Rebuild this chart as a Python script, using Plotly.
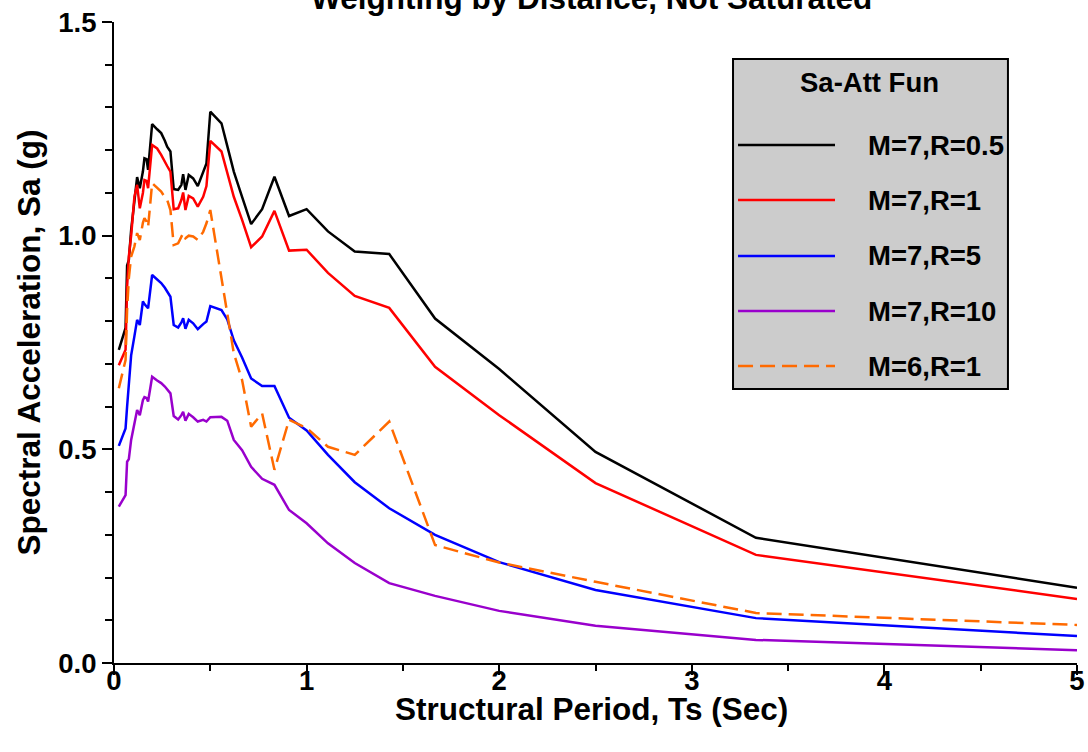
import plotly.graph_objects as go

# Structural period (s)
PERIOD = [0.025, 0.06, 0.068, 0.077, 0.089, 0.106, 0.12, 0.134, 0.15, 0.158,
          0.169, 0.177, 0.198, 0.224, 0.245, 0.264, 0.276, 0.293, 0.31, 0.333,
          0.35, 0.359, 0.371, 0.388, 0.411, 0.435, 0.463, 0.48, 0.5, 0.558,
          0.588, 0.622, 0.665, 0.712, 0.769, 0.833, 0.909, 1.0, 1.111, 1.25,
          1.429, 1.667, 2.0, 2.5, 3.333, 5.0]

# Spectral acceleration (g) for each magnitude / distance case
SA_M7_R05 = [0.733, 0.784, 0.930, 0.943, 1.013, 1.083, 1.137, 1.111, 1.150, 1.181,
             1.179, 1.154, 1.261, 1.249, 1.240, 1.222, 1.208, 1.197, 1.109, 1.107,
             1.119, 1.144, 1.107, 1.142, 1.134, 1.116, 1.150, 1.169, 1.290, 1.263,
             1.210, 1.150, 1.091, 1.027, 1.062, 1.138, 1.046, 1.062, 1.010, 0.963,
             0.957, 0.806, 0.688, 0.494, 0.293, 0.176]
SA_M7_R1 = [0.697, 0.733, 0.880, 0.951, 1.000, 1.091, 1.119, 1.064, 1.100, 1.130,
            1.128, 1.111, 1.212, 1.204, 1.189, 1.175, 1.163, 1.150, 1.062, 1.064,
            1.084, 1.101, 1.060, 1.093, 1.087, 1.068, 1.091, 1.116, 1.222, 1.197,
            1.145, 1.091, 1.037, 0.973, 0.998, 1.058, 0.965, 0.967, 0.913, 0.859,
            0.831, 0.693, 0.580, 0.421, 0.253, 0.150]
SA_M7_R5 = [0.508, 0.549, 0.600, 0.660, 0.720, 0.765, 0.803, 0.791, 0.846, 0.840,
            0.834, 0.830, 0.908, 0.898, 0.889, 0.878, 0.868, 0.857, 0.791, 0.785,
            0.797, 0.807, 0.782, 0.803, 0.795, 0.781, 0.793, 0.799, 0.835, 0.826,
            0.804, 0.755, 0.715, 0.666, 0.648, 0.648, 0.574, 0.544, 0.487, 0.423,
            0.362, 0.300, 0.236, 0.171, 0.105, 0.063]
SA_M7_R10 = [0.366, 0.393, 0.471, 0.477, 0.522, 0.562, 0.592, 0.580, 0.615, 0.622,
             0.620, 0.612, 0.670, 0.661, 0.655, 0.647, 0.640, 0.631, 0.578, 0.570,
             0.580, 0.588, 0.567, 0.583, 0.575, 0.565, 0.569, 0.565, 0.575, 0.576,
             0.567, 0.522, 0.498, 0.459, 0.431, 0.417, 0.358, 0.327, 0.280, 0.234,
             0.187, 0.157, 0.122, 0.087, 0.054, 0.030]
SA_M6_R1 = [0.643, 0.709, 0.826, 0.900, 0.951, 0.975, 1.006, 0.990, 1.030, 1.041,
            1.033, 1.020, 1.123, 1.111, 1.103, 1.090, 1.084, 1.060, 0.978, 0.982,
            0.998, 1.006, 0.994, 1.000, 0.998, 0.990, 1.009, 1.029, 1.060, 0.900,
            0.815, 0.725, 0.662, 0.553, 0.584, 0.452, 0.569, 0.550, 0.506, 0.487,
            0.565, 0.276, 0.235, 0.190, 0.117, 0.089]

SERIES_NAMES = ["M=7,R=0.5", "M=7,R=1", "M=7,R=5", "M=7,R=10", "M=6,R=1"]
SERIES_VALUES = [SA_M7_R05, SA_M7_R1, SA_M7_R5, SA_M7_R10, SA_M6_R1]
SERIES_COLORS = ["#000000", "#FF0000", "#0000FF", "#9900CC", "#FF6A00"]
SERIES_DASH = ["solid", "solid", "solid", "solid", "15px,7px"]

TITLE = "Weighting by Distance, Not Saturated"
LEGEND_TITLE = "Sa-Att Fun"
X_TITLE = "Structural Period, Ts (Sec)"
Y_TITLE = "Spectral Acceleration, Sa (g)"

FONT = "Liberation Sans, Arial, sans-serif"

fig = go.Figure()
for name, vals, col, dash in zip(SERIES_NAMES, SERIES_VALUES, SERIES_COLORS, SERIES_DASH):
    fig.add_trace(go.Scatter(x=PERIOD, y=vals, mode="lines", name=name,
                             line=dict(color=col, width=2.5, dash=dash),
                             showlegend=False))

axis_common = dict(showgrid=False, zeroline=False, showline=True, automargin=False,
                   linecolor="black", linewidth=2, tickcolor="black", tickwidth=2)

fig.update_layout(
    width=1088, height=752,
    margin=dict(l=114, r=11, t=22, b=89),
    paper_bgcolor="white", plot_bgcolor="white",
    font=dict(family=FONT, color="black"),
    xaxis=dict(range=[0, 5], tickmode="linear", tick0=0, dtick=1,
               ticks="outside", ticklen=10, ticklabelstandoff=-18,
               minor=dict(dtick=0.5, ticks="outside", ticklen=6,
                          tickcolor="black", tickwidth=2),
               tickfont=dict(size=27.5, family=FONT, weight="bold"),
               **axis_common),
    yaxis=dict(range=[0, 1.5], tickmode="linear", tick0=0, dtick=0.5,
               tickformat=".1f", ticks="outside", ticklen=10,
               minor=dict(dtick=0.1, ticks="outside", ticklen=7,
                          tickcolor="black", tickwidth=2),
               tickfont=dict(size=27.5, family=FONT, weight="bold"),
               title=dict(text=Y_TITLE, standoff=8,
                          font=dict(size=31.5, family=FONT, weight="bold")),
               **axis_common),
    xaxis2=dict(range=[0, 5], overlaying="x", side="top", anchor="y",
                tickmode="linear", tick0=0, dtick=0.5, ticks="inside",
                ticklen=10, showticklabels=False, **axis_common),
    yaxis2=dict(range=[0, 1.5], overlaying="y", side="right", anchor="x",
                tickmode="linear", tick0=0, dtick=0.5, ticks="inside",
                ticklen=10, showticklabels=False,
                minor=dict(dtick=0.1, ticks="inside", ticklen=7,
                           tickcolor="black", tickwidth=2),
                **axis_common),
)

# Chart title, partly above the frame
fig.add_annotation(text=TITLE, xref="paper", yref="paper", x=0.4955, y=1.038,
                   xanchor="center", yanchor="middle", showarrow=False,
                   font=dict(size=31.5, family=FONT, weight="bold"))

# X-axis title placed just under the tick labels
fig.add_annotation(text=X_TITLE, xref="paper", yref="paper", x=0.4955, y=-0.0715,
                   xanchor="center", yanchor="middle", showarrow=False,
                   font=dict(size=31.5, family=FONT, weight="bold"))

# Legend panel drawn with shapes and text
LX0, LX1, LY0, LY1 = 0.6428, 0.9283, 0.4275, 0.9423
fig.add_shape(type="rect", xref="paper", yref="paper", x0=LX0, x1=LX1, y0=LY0, y1=LY1,
              fillcolor="#CCCCCC", line=dict(color="black", width=2), layer="above")
fig.add_annotation(text=LEGEND_TITLE, xref="paper", yref="paper", x=0.785, y=0.905,
                   xanchor="center", yanchor="middle", showarrow=False,
                   font=dict(size=27.5, family=FONT, weight="bold"))
row_y = [0.808, 0.7223, 0.635, 0.549, 0.4633]
for name, col, dash, yy in zip(SERIES_NAMES, SERIES_COLORS, SERIES_DASH, row_y):
    fig.add_shape(type="line", xref="paper", yref="paper", x0=0.648, x1=0.7487,
                  y0=yy, y1=yy, line=dict(color=col, width=2.5, dash=dash), layer="above")
    fig.add_annotation(text=name, xref="paper", yref="paper", x=0.781, y=yy,
                       xanchor="left", yanchor="middle", showarrow=False,
                       font=dict(size=27.5, family=FONT, weight="bold"))

fig.write_html("out.html")
